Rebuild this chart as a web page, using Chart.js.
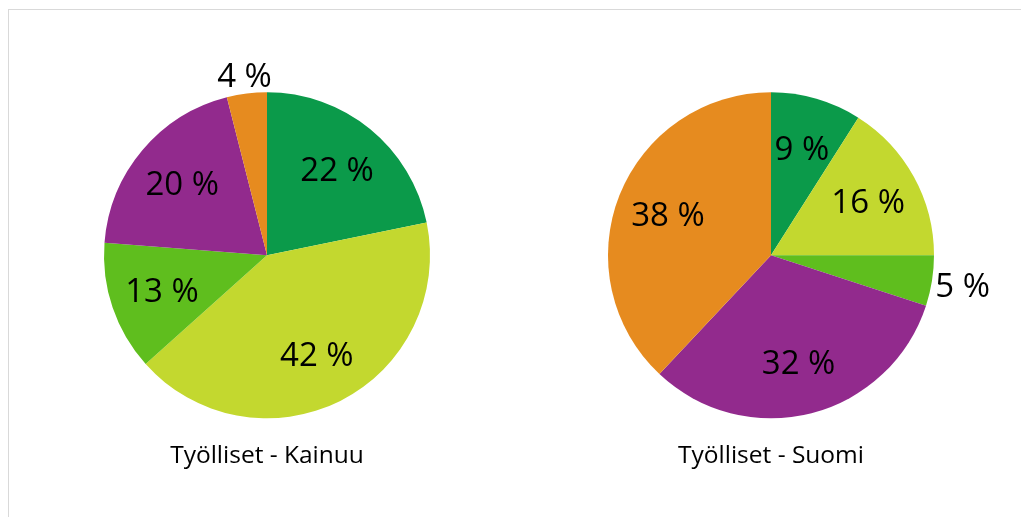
<!DOCTYPE html>
<html>
<head>
<meta charset="utf-8">
<script src="https://cdn.jsdelivr.net/npm/chart.js@4"></script>
<style>
  html, body { margin: 0; padding: 0; background: #fff; overflow: hidden; }
  body { width: 1021px; height: 517px; position: relative; }
  .frame { position: absolute; left: 8px; top: 9px; width: 1040px; height: 540px; border: 1px solid #d9d9d9; }
  .box { position: absolute; top: 0; width: 504px; height: 517px; }
  #left { left: 15px; }
  #right { left: 519px; }
</style>
</head>
<body>
<div class="frame"></div>
<div class="box" id="left"><canvas id="kainuu"></canvas></div>
<div class="box" id="right"><canvas id="suomi"></canvas></div>
<script>
const categories = ['Alkutuotanto', 'Jalostus', 'Rakentaminen', 'Julkiset palvelut', 'Yksityiset palvelut']
const kainuuValues = [22, 42, 13, 20, 4]
const suomiValues = [9, 16, 5, 32, 38]
const colors = ['#0b9a4a', '#c3d82f', '#5fbe1e', '#922a8d', '#e68b1f']

const FONT = '"Open Sans", "DejaVu Sans", sans-serif'

// percentage labels: inside for big slices, outside for small ones
const pctLabels = {
  id: 'pctLabels',
  afterDatasetsDraw(chart) {
    const ctx = chart.ctx
    const values = chart.data.datasets[0].data
    ctx.save()
    ctx.font = '33px ' + FONT
    ctx.fillStyle = '#000'
    ctx.textAlign = 'center'
    ctx.textBaseline = 'middle'
    chart.getDatasetMeta(0).data.forEach((arc, i) => {
      const p = arc.getProps(['x', 'y', 'startAngle', 'endAngle', 'outerRadius'], true)
      const mid = (p.startAngle + p.endAngle) / 2
      const text = values[i] + ' %'
      let r = p.outerRadius * 0.68
      if (values[i] < 6) {
        const w = ctx.measureText(text).width
        r = p.outerRadius + 2 + Math.abs(Math.cos(mid)) * w / 2 + Math.abs(Math.sin(mid)) * 13
      }
      ctx.fillText(text, p.x + Math.cos(mid) * r, p.y + Math.sin(mid) * r + 2)
    })
    ctx.restore()
  }
}

function makePie(id, values, title) {
  return new Chart(document.getElementById(id), {
    type: 'pie',
    data: {
      labels: categories,
      datasets: [{
        data: values,
        backgroundColor: colors,
        borderWidth: 0
      }]
    },
    options: {
      responsive: true,
      maintainAspectRatio: false,
      animation: false,
      layout: { padding: { top: 92, bottom: 36, left: 89, right: 89 } },
      plugins: {
        legend: { display: false },
        tooltip: { enabled: false },
        title: {
          display: true,
          text: title,
          position: 'bottom',
          color: '#000',
          font: { family: FONT, size: 24.5, weight: 'normal' },
          padding: { top: 23, bottom: 10 }
        }
      }
    },
    plugins: [pctLabels]
  })
}

makePie('kainuu', kainuuValues, 'Työlliset - Kainuu')
makePie('suomi', suomiValues, 'Työlliset - Suomi')
</script>
</body>
</html>
